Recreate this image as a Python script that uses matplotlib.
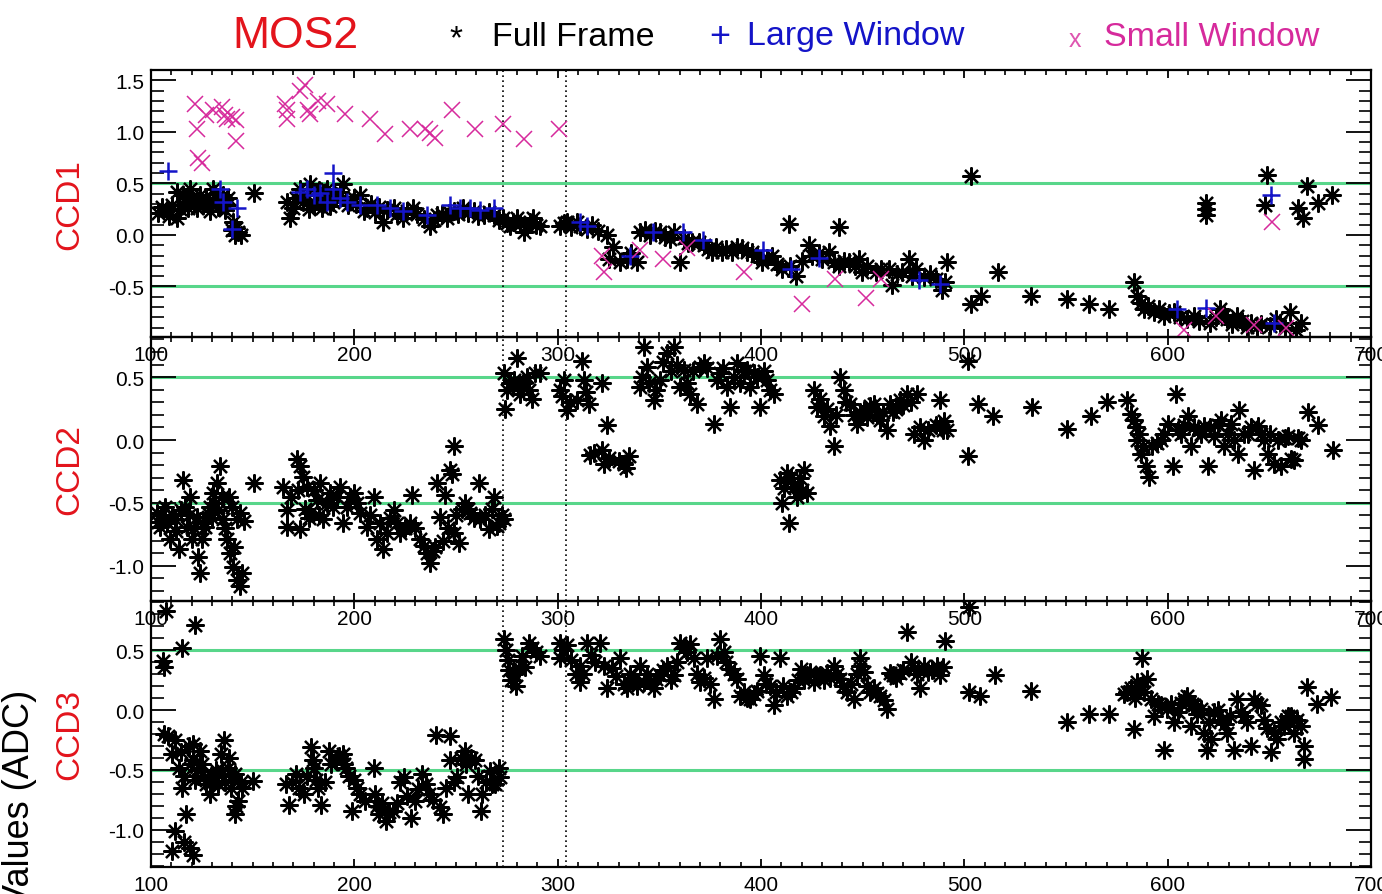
import numpy as np
import matplotlib.pyplot as plt
from matplotlib.ticker import FixedLocator, MultipleLocator

plt.rcParams['font.family'] = ['Liberation Sans', 'DejaVu Sans']
plt.rcParams['axes.unicode_minus'] = False

# ---------------------------------------------------------
# Offsets per frame (ADC), one list of (frame, value) per mode
# ---------------------------------------------------------

ccd1_full = [
    (103.6, 0.21), (105.5, 0.27), (107.7, 0.24), (109, 0.18), (110.2, 0.29), (112.6, 0.16), (112.6, 0.42),
    (114, 0.25), (115.9, 0.39), (116.7, 0.32), (118.4, 0.26), (119.2, 0.45), (120, 0.36), (121, 0.30),
    (122.5, 0.26), (123.5, 0.33), (124.1, 0.39), (125.7, 0.29), (127, 0.35), (128.2, 0.32), (129, 0.23),
    (130.7, 0.45), (131.5, 0.40), (132.3, 0.36), (133, 0.27), (134, 0.29), (135, 0.33), (135.6, 0.39),
    (136.5, 0.24), (137.2, 0.29), (138, 0.36), (139.7, 0.05), (140.5, 0.13), (141.3, 0.0), (142, 0.07),
    (143, 0.03), (144, 0.0), (150.4, 0.41),
    (166.8, 0.32), (168.4, 0.16), (170, 0.26), (171.5, 0.36), (173.3, 0.45), (174.9, 0.32), (176.6, 0.39),
    (177.5, 0.25), (178.2, 0.49), (179.9, 0.29), (181.5, 0.39), (182.5, 0.44), (184, 0.26), (185, 0.35),
    (186.4, 0.45), (188, 0.28), (189.7, 0.32), (191, 0.38), (193, 0.42), (194.6, 0.49), (196, 0.34),
    (197, 0.29), (199.6, 0.36), (201, 0.30), (202.9, 0.39), (204.5, 0.23), (206.1, 0.26),
    (208, 0.30), (210, 0.22), (212, 0.27), (214.3, 0.13), (216, 0.24), (219.3, 0.26), (221, 0.20),
    (224, 0.16), (226, 0.23), (229, 0.26), (231, 0.20), (234, 0.15), (237.2, 0.09), (239, 0.14),
    (240.5, 0.19), (243, 0.20), (245.4, 0.16), (247, 0.21), (248.8, 0.23), (251, 0.20), (253.6, 0.26),
    (256, 0.21), (258.6, 0.23), (261, 0.18), (263.5, 0.19), (266, 0.22), (268.5, 0.19), (271, 0.14),
    (273.3, 0.16), (275, 0.12), (276.6, 0.09), (278, 0.13), (279.9, 0.16), (281.5, 0.11), (283.2, 0.03),
    (284.8, 0.09), (286.5, 0.13), (288, 0.16), (289.5, 0.10),
    (291.4, 0.09), (301.3, 0.09), (303, 0.12), (304.6, 0.13), (306.5, 0.08), (309.5, 0.13), (311, 0.09),
    (314.4, 0.06), (317, 0.10), (320, 0.04), (324.2, 0.0), (325, -0.23), (327, -0.12), (330.8, -0.26),
    (334, -0.23), (336, -0.18), (339, -0.26),
    (340.6, 0.03), (343, 0.05), (345.5, 0.0), (348, 0.04), (350.5, 0.03), (353, -0.02), (355.4, -0.04),
    (357, 0.03), (360.3, -0.26), (362, -0.03), (364, -0.08), (366, -0.07), (369.5, -0.07), (372, -0.10),
    (374, -0.14), (376, -0.17), (378, -0.12), (380.9, -0.17), (383, -0.14), (385.9, -0.17), (388, -0.12),
    (390.8, -0.13), (393, -0.17), (395.7, -0.17), (398, -0.20), (400.6, -0.26), (403, -0.22), (405.5, -0.20),
    (408, -0.28), (410.4, -0.33), (413.7, 0.11), (414, -0.30), (417, -0.40), (420, -0.25),
    (423.5, -0.10), (425, -0.20), (428.5, -0.18), (430, -0.23), (433.4, -0.17), (436, -0.26), (438.3, 0.08),
    (438.3, -0.30), (441, -0.25), (443.2, -0.26), (446, -0.30), (448.1, -0.23), (449.7, -0.36), (452, -0.30),
    (456.3, -0.36), (459, -0.33), (462.8, -0.33), (464.5, -0.49), (467, -0.38), (469.4, -0.36), (472.7, -0.23),
    (474, -0.40), (476, -0.33), (480, -0.41), (483, -0.38), (485.8, -0.43), (489, -0.53), (490.7, -0.46),
    (491.5, -0.26), (503.4, 0.57), (503.4, -0.67), (508.3, -0.59), (516.5, -0.36),
    (532.6, -0.59), (550.7, -0.62), (561.3, -0.67), (571.1, -0.72), (583.4, -0.46), (585.1, -0.59),
    (586.7, -0.66), (588.3, -0.72), (590.5, -0.69), (593.2, -0.75), (595.5, -0.72), (598.1, -0.79),
    (600.5, -0.76), (603, -0.75), (606, -0.80), (609.6, -0.82), (612.9, -0.79), (615.5, -0.84),
    (618.6, 0.31), (618.6, 0.19), (618.6, 0.25), (620.9, -0.85), (623.5, -0.80), (625.9, -0.72),
    (627.5, -0.78), (629.1, -0.82), (631.5, -0.86), (634, -0.79), (636.5, -0.84), (638.9, -0.89),
    (641, -0.85), (643.8, -0.89), (646, -0.86), (648.8, 0.58), (648, 0.29), (650.5, -0.88), (653, -0.82),
    (655.2, -0.85), (657.5, -0.90), (660.1, -0.75), (663.1, -0.92), (664.2, 0.26), (665.5, -0.85),
    (666.7, 0.16), (668.3, 0.47), (674, 0.31), (680.6, 0.39),
]

ccd1_large = [
    (108.5, 0.62), (134, 0.45), (135.6, 0.32), (139.7, 0.06), (142.2, 0.26), (173.3, 0.42), (176.6, 0.45),
    (179.9, 0.39), (183.2, 0.41), (186.4, 0.32), (189.7, 0.45), (189.7, 0.60), (193, 0.36), (196.3, 0.32),
    (202.9, 0.29), (211, 0.29), (217.6, 0.26), (224, 0.23), (235.6, 0.19), (247, 0.29), (252, 0.26),
    (257, 0.26), (262, 0.24), (268.5, 0.26), (311, 0.13), (314.4, 0.09), (335.6, -0.20), (347, 0.03),
    (361.7, 0.03), (371.5, -0.05), (401, -0.15), (414.8, -0.33), (428.6, -0.22), (477.8, -0.44),
    (488, -0.48), (604.7, -0.72), (618.7, -0.71), (650.6, 0.39), (652.3, -0.85),
]

ccd1_small = [
    (121.6, 1.27), (122.5, 1.03), (123, 0.75), (125, 0.70), (127, 1.16), (130.7, 1.21), (134.8, 1.24),
    (136.4, 1.16), (137.2, 1.12), (139.7, 1.14), (142, 1.11), (142, 0.91), (166, 1.27), (166.7, 1.21),
    (166.7, 1.12), (173.3, 1.40), (175.7, 1.45), (177.4, 1.21), (178.2, 1.17), (182.3, 1.30), (186.4, 1.27),
    (195.4, 1.17), (207.7, 1.12), (215, 0.98), (227.4, 1.03), (234.8, 1.03), (237, 0.99), (239.7, 0.94),
    (248, 1.21), (259.4, 1.03), (273.3, 1.08), (283.2, 0.93), (300.5, 1.03), (321.8, -0.20), (322.6, -0.36),
    (340.6, -0.15), (352, -0.23), (363.6, -0.13), (391.5, -0.36), (420.2, -0.67), (436.6, -0.43),
    (451.4, -0.61), (458.8, -0.43), (608, -0.92), (623.6, -0.79), (642.5, -0.87), (651.5, 0.13), (658, -0.90),
]

ccd2_full = [
    (102.8, -0.58), (103.5, -0.65), (104.4, -0.69), (105.5, -0.60), (106.9, -0.53), (108, -0.66), (109.4, -0.79),
    (110.5, -0.60), (111.8, -0.63), (112.5, -0.72), (113.5, -0.87), (114.5, -0.56), (115.9, -0.32), (116.7, -0.53),
    (117.6, -0.69), (118.5, -0.60), (119.2, -0.45), (120, -0.79), (121, -0.70), (122.5, -0.61), (123.3, -0.93),
    (124.1, -1.06), (124.9, -0.79), (125.5, -0.66), (126.6, -0.69), (128, -0.58), (129, -0.53), (130, -0.62),
    (130.7, -0.42), (131.5, -0.50), (132.3, -0.34), (133, -0.56), (134, -0.21), (134.8, -0.45), (135.6, -0.63),
    (136.5, -0.70), (137.2, -0.79), (138.2, -0.45), (138.9, -0.90), (139.9, -0.53), (140.5, -1.01), (141, -0.85),
    (142.2, -1.11), (142.2, -0.63), (143.8, -1.16), (143.8, -0.58), (144.6, -1.06), (145.5, -0.64), (150.4, -0.34),
    (165.1, -0.37), (166.8, -0.56), (166.8, -0.69), (169, -0.45), (171.7, -0.15), (172.5, -0.40), (173.3, -0.21),
    (173.3, -0.71), (174.9, -0.29), (175.5, -0.55), (176.6, -0.37), (177.5, -0.62), (178.2, -0.58), (180, -0.40),
    (181.5, -0.48), (182.5, -0.60), (183.2, -0.34), (184.8, -0.63), (186.5, -0.50), (188.1, -0.42), (189.7, -0.53),
    (191.5, -0.45), (193, -0.37), (194.6, -0.66), (196.3, -0.53), (198, -0.45), (199.6, -0.42), (201.5, -0.50),
    (202.9, -0.58),
    (206.1, -0.69), (207.5, -0.60), (209.4, -0.45), (211, -0.79), (212.5, -0.66), (214.3, -0.87), (215.9, -0.74),
    (217.5, -0.62), (219.3, -0.56), (221, -0.66), (222.5, -0.74), (225, -0.70), (227.5, -0.66), (228.4, -0.44),
    (230, -0.70), (232.4, -0.79), (234, -0.84), (235.7, -0.90), (237.3, -0.98), (238.5, -0.88), (239.8, -0.85),
    (240.6, -0.34), (242.3, -0.61), (243.5, -0.80), (244.8, -0.44), (246, -0.70), (247.2, -0.24), (248.9, -0.05),
    (248, -0.27), (248.9, -0.74), (250, -0.60), (251.3, -0.82), (253, -0.55), (254.6, -0.50), (256, -0.55),
    (257, -0.58), (259, -0.62), (261.2, -0.34), (262, -0.63), (264, -0.60), (266.1, -0.71), (267.5, -0.55),
    (268.6, -0.45), (270, -0.68), (271, -0.66), (272.5, -0.60), (273.5, -0.63),
    (273.5, 0.53), (274.3, 0.25), (275.1, 0.40), (276.5, 0.45), (278.3, 0.48), (279.9, 0.65), (280.5, 0.42),
    (281.6, 0.37), (283, 0.45), (284.9, 0.50), (286, 0.40), (287.3, 0.33), (288.9, 0.53), (291.4, 0.53),
    (301.3, 0.40), (302, 0.35), (303, 0.48), (304.6, 0.24), (306, 0.30), (309.5, 0.32), (312, 0.63),
    (312.8, 0.48), (314, 0.38), (315.2, 0.29), (321.8, 0.45), (324.2, 0.12),
    (316, -0.12), (318, -0.10), (321.8, -0.08), (322.6, -0.19), (325, -0.14), (330, -0.17), (332.4, -0.19),
    (334.9, -0.13), (333.5, -0.22),
    (340.6, 0.42), (341.5, 0.50), (342.3, 0.74), (343.9, 0.58), (345, 0.45), (347.2, 0.32), (348.5, 0.40),
    (350.5, 0.48), (352, 0.62), (353.8, 0.69), (355.5, 0.55), (357, 0.74), (358.5, 0.60), (360.3, 0.42),
    (362, 0.56), (363.5, 0.45), (365.2, 0.37), (366.5, 0.55), (368.5, 0.29), (370, 0.58), (371.8, 0.61),
    (373.5, 0.57), (376.7, 0.13), (378.5, 0.48), (380, 0.53), (381.5, 0.57), (383.3, 0.42), (384.9, 0.26),
    (386.5, 0.50), (388.2, 0.61), (389.8, 0.45), (391.5, 0.55), (393.1, 0.56), (394.5, 0.42), (396.4, 0.53),
    (398, 0.50), (399.7, 0.26), (401.5, 0.55), (403, 0.48), (404.5, 0.40), (406.2, 0.37),
    (409.5, -0.32), (410.3, -0.50), (411.5, -0.38), (412.8, -0.26), (413.6, -0.66), (414.5, -0.30),
    (416.1, -0.37), (417.7, -0.45), (419, -0.30), (421, -0.24), (422.6, -0.42), (420, -0.40),
    (425.9, 0.40), (427.5, 0.26), (429, 0.33), (430.8, 0.19), (432.5, 0.25), (434.1, 0.11), (435.7, -0.05),
    (437, 0.20), (438.9, 0.50), (440.6, 0.40), (442, 0.30), (443.9, 0.29), (445.5, 0.20), (447.1, 0.13),
    (448.5, 0.22), (450.4, 0.24), (452, 0.18), (453.5, 0.27), (455.3, 0.29), (457, 0.20), (458.6, 0.16),
    (460, 0.22), (461.9, 0.08), (463.5, 0.29), (465, 0.22), (466.5, 0.25), (468.4, 0.32), (470, 0.28),
    (471.7, 0.37), (473.5, 0.30), (475, 0.05), (476.6, 0.37), (478, 0.10), (479.9, 0.0), (482, 0.08),
    (486, 0.12), (488.1, 0.32), (488.1, 0.11), (489.5, 0.08), (491.4, 0.08), (490, 0.15), (502, 0.63),
    (502, -0.13), (506.9, 0.29), (514.3, 0.19),
    (533.4, 0.26), (550.6, 0.09), (562.1, 0.19), (570.3, 0.30), (580.1, 0.32), (581.8, 0.21), (583.4, 0.16),
    (584.5, 0.10), (585.1, 0.0), (586, 0.05), (586.7, -0.11), (588, -0.05), (589.2, -0.21), (590.8, -0.29),
    (592.5, -0.05), (594.5, -0.02), (596.6, 0.0), (598, 0.05), (599.9, 0.13), (602.4, -0.21), (604, 0.37),
    (605, 0.08), (606.5, 0.05), (608, 0.12), (609.8, 0.19), (611.4, -0.05), (613, 0.10), (614.7, 0.08),
    (616.5, 0.05), (618, 0.11), (619.6, -0.21), (621, 0.10), (622.9, 0.03), (624.5, 0.12), (626.2, 0.16),
    (627.8, -0.05), (629.5, 0.05), (631.1, 0.13), (632.8, 0.0), (634.4, -0.11), (635.2, 0.24), (637.5, 0.05),
    (639.3, 0.05), (641, 0.10), (642.6, -0.24), (644.2, 0.11), (646, 0.05), (647.5, 0.0), (649.1, -0.11),
    (650.5, 0.05), (652.4, -0.19), (654, 0.0), (655.7, -0.21), (657.5, 0.02), (659, 0.03), (660.5, -0.15),
    (662.2, -0.16), (664, 0.02), (665.5, 0.0), (668.8, 0.22), (673.8, 0.12), (681.1, -0.08),
]

ccd3_full = [
    (107.4, 0.83), (105.7, 0.41), (106.6, 0.36), (115.3, 0.52), (121.5, 0.71),
    (106.6, -0.20), (108.5, -0.22), (110.1, -0.37), (111.8, -0.25), (113.6, -0.48), (114.5, -0.35), (115.3, -0.65),
    (116, -0.55), (117.1, -0.87), (118.5, -0.30), (119.5, -0.45), (120.6, -0.28), (120.6, -0.42), (121.5, -0.58),
    (122.5, -0.50), (124.1, -0.34), (125, -0.45), (125.9, -0.56), (127, -0.62), (128.9, -0.70), (129.5, -0.55),
    (130.7, -0.59), (132, -0.50), (133, -0.62), (134.2, -0.37), (135, -0.50), (136, -0.25), (136.5, -0.60),
    (137.7, -0.48), (138.5, -0.40), (139.5, -0.65), (140.5, -0.55), (141.3, -0.87), (141.3, -0.53), (142, -0.80),
    (143, -0.76), (144, -0.60), (144.8, -0.65), (150, -0.59),
    (111.8, -1.01), (110.1, -1.18), (119, -1.15), (120.6, -1.21), (116, -1.10),
    (166.3, -0.62), (168, -0.79), (169.5, -0.60), (171.5, -0.53), (173, -0.65), (175, -0.70), (176.5, -0.55),
    (178.5, -0.31), (179.5, -0.42), (180.3, -0.48), (181, -0.58), (182, -0.65), (183.8, -0.79), (185.5, -0.60),
    (187.3, -0.34), (188.5, -0.45), (190.8, -0.42), (192.5, -0.38), (194.3, -0.37), (195, -0.45), (196.1, -0.48),
    (197.5, -0.55), (198.7, -0.84), (200, -0.58), (201.5, -0.65), (203, -0.70), (205, -0.76),
    (209.4, -0.48), (210.3, -0.70), (211, -0.80), (212.1, -0.87), (213.5, -0.78), (215.6, -0.93), (217, -0.85),
    (219.1, -0.84), (221, -0.78), (222.5, -0.60), (224.4, -0.56), (226, -0.72), (227.9, -0.90), (229.6, -0.76),
    (231.5, -0.66), (233.1, -0.53), (235, -0.62), (236.6, -0.70), (238.5, -0.75), (240.2, -0.21), (241.9, -0.81),
    (243.7, -0.87), (245, -0.65), (247.2, -0.22), (247.2, -0.42), (249, -0.60), (250.7, -0.56), (252.5, -0.40),
    (254.2, -0.34), (255, -0.45), (256, -0.70), (257.5, -0.40), (259.5, -0.42), (261, -0.55), (262.1, -0.84),
    (263, -0.70), (264.5, -0.60), (266.5, -0.51), (267.5, -0.62), (269.1, -0.62), (270.9, -0.48), (271.5, -0.56),
    (273.5, 0.59), (274.5, 0.50), (275.3, 0.42), (276, 0.33), (277.1, 0.25), (278.5, 0.30), (279.7, 0.20),
    (281, 0.35), (282.5, 0.45), (284.1, 0.36), (285.8, 0.56), (287.5, 0.52), (289.3, 0.48), (291.4, 0.45),
    (301.3, 0.56), (301.3, 0.43), (302.5, 0.50), (304.6, 0.54), (306.5, 0.42), (309, 0.30), (311, 0.37),
    (311, 0.23), (312.5, 0.30), (314.4, 0.56), (316.5, 0.46), (318.5, 0.40), (321, 0.56), (322.6, 0.37),
    (324.2, 0.18),
    (326.5, 0.35), (328.5, 0.28), (330.8, 0.43), (332.5, 0.22), (334, 0.18), (335.5, 0.30), (337.3, 0.26),
    (339, 0.20), (340.6, 0.37), (342.3, 0.23), (344, 0.30), (345.5, 0.24), (347.2, 0.18), (348.5, 0.26),
    (350.5, 0.29), (352, 0.33), (353.8, 0.37), (355.5, 0.25), (357, 0.29), (358.5, 0.40), (360.3, 0.56),
    (362, 0.52), (363.6, 0.48), (365, 0.55), (366.9, 0.43), (368.5, 0.30), (370.2, 0.23), (371.8, 0.27),
    (373.5, 0.43), (375, 0.22), (376.7, 0.09), (378.5, 0.45), (380, 0.59), (381.6, 0.48), (383, 0.40),
    (384.9, 0.34), (386.5, 0.30), (388.2, 0.26), (389.8, 0.12), (391.5, 0.15), (393, 0.10), (394.8, 0.09),
    (396.5, 0.13), (398, 0.16), (399.7, 0.45), (401.3, 0.29), (402.5, 0.22), (404.6, 0.20), (406.2, 0.04),
    (407.5, 0.15), (409.5, 0.43), (411, 0.20), (412.8, 0.12), (414.5, 0.15), (416.1, 0.18), (418, 0.25),
    (419.4, 0.34),
    (421, 0.25), (422.6, 0.29), (424, 0.32), (425.9, 0.23), (427.5, 0.28), (429.2, 0.29), (430.8, 0.25),
    (432.5, 0.31), (434, 0.27), (435.7, 0.37), (437.5, 0.30), (439, 0.26), (440.5, 0.20), (442.3, 0.15),
    (444, 0.22), (445.6, 0.09), (447, 0.30), (448.8, 0.43), (448.8, 0.37), (450.5, 0.32), (452, 0.20),
    (453.8, 0.15), (455.5, 0.18), (457, 0.14), (458.7, 0.12), (460.5, 0.08), (462, 0.01), (463.6, 0.31),
    (465, 0.29), (466.5, 0.27), (468.5, 0.31), (470, 0.33), (471.8, 0.65), (473.5, 0.40), (475, 0.35),
    (476.5, 0.30), (478.4, 0.18), (480, 0.37), (482, 0.32), (484, 0.33), (486.6, 0.37), (488.2, 0.29),
    (489.5, 0.36), (490.7, 0.58), (502.1, 0.86), (502.1, 0.15), (507.8, 0.12), (515.2, 0.29),
    (532.6, 0.16), (550.7, -0.10), (561.3, -0.03), (571.1, -0.03), (578.5, 0.13), (580, 0.15), (581.8, 0.18),
    (583.4, -0.16), (584, 0.10), (585.1, 0.23), (586.5, 0.20), (587.5, 0.43), (588.5, 0.15), (590, 0.26),
    (591.6, 0.09), (593.3, -0.05), (595, 0.05), (596.6, 0.04), (598.2, -0.33), (599.8, 0.01), (601.5, 0.05),
    (603.1, -0.10), (604.8, -0.02), (606.5, 0.06), (608.1, 0.09), (609.7, 0.12), (611.3, -0.13), (612, 0.05),
    (613, 0.04), (614.5, -0.03), (616.2, 0.01), (617.9, -0.19), (619.5, -0.33), (620.5, -0.10), (621.1, -0.24),
    (622.8, -0.02), (624.5, 0.0), (626.1, -0.08), (628, -0.12), (629.3, -0.19), (630.8, -0.05), (632.6, -0.33),
    (634.3, 0.09), (636, -0.02), (637.5, -0.05), (639, -0.10), (640.8, -0.30), (642.5, 0.09), (644, 0.05),
    (645.7, 0.04), (647.4, -0.08), (649, -0.15), (650.6, -0.35), (652.3, -0.19), (653.9, -0.24), (655.5, -0.10),
    (657.2, -0.13), (659, -0.05), (660.5, -0.05), (662.1, -0.19), (663.5, -0.08), (665.4, -0.13), (667.1, -0.30),
    (667.1, -0.41), (668.7, 0.19), (673.6, 0.05), (680.2, 0.11),
]

ccd_names = ["CCD1", "CCD2", "CCD3"]
thresholds = [-0.5, 0.5]
gap_frames = [273, 304]
x_ticks = [100, 200, 300, 400, 500, 600, 700]
y_limits = [(-0.99, 1.6), (-1.28, 0.82), (-1.31, 0.91)]
y_ticks = [[-0.5, 0.0, 0.5, 1.0, 1.5], [-1.0, -0.5, 0.0, 0.5], [-1.0, -0.5, 0.0, 0.5]]

RED = '#e3141c'
BLUE = '#1414c8'
MAGENTA = '#d62a9c'
GREEN = '#58d68a'

# ---------------------------------------------------------
# Figure: three stacked panels sharing the frame axis
# ---------------------------------------------------------

fig = plt.figure(figsize=(13.82, 8.95), dpi=100)
boxes = [
    [0.1093, 0.6224, 0.8828, 0.2983],
    [0.1093, 0.3274, 0.8828, 0.2950],
    [0.1093, 0.0302, 0.8828, 0.2972],
]
panels = [
    [(ccd1_full, 'full'), (ccd1_large, 'large'), (ccd1_small, 'small')],
    [(ccd2_full, 'full')],
    [(ccd3_full, 'full')],
]
styles = {
    'full': dict(marker=(8, 2, 0), color='black', ms=13, mew=1.6),
    'large': dict(marker='+', color=BLUE, ms=13, mew=1.8),
    'small': dict(marker='x', color=MAGENTA, ms=11, mew=1.1),
}

for i, box in enumerate(boxes):
    ax = fig.add_axes(box)
    ax.set_facecolor('none')
    ax.set_xlim(100, 700)
    ax.set_ylim(*y_limits[i])

    for y0 in thresholds:
        ax.axhline(y0, color=GREEN, lw=2.2, zorder=1)
    for x0 in gap_frames:
        ax.axvline(x0, color='black', lw=1.2, ls=(0, (1, 2)), zorder=1)

    for pts, kind in panels[i]:
        arr = np.array(pts)
        ax.plot(arr[:, 0], arr[:, 1], ls='none', zorder=3, **styles[kind])

    ax.xaxis.set_major_locator(FixedLocator(x_ticks))
    ax.xaxis.set_minor_locator(MultipleLocator(10))
    ax.yaxis.set_major_locator(FixedLocator(y_ticks[i]))
    ax.yaxis.set_minor_locator(MultipleLocator(0.1))
    ax.yaxis.set_major_formatter(lambda v, p: f"{v:.1f}")
    ax.tick_params(axis='x', which='major', direction='in', length=6, width=1.3,
                   top=True, bottom=True, labelsize=15, pad=6)
    ax.tick_params(axis='x', which='minor', direction='in', length=3.5, width=1.2, top=True, bottom=True)
    ax.tick_params(axis='y', which='major', direction='in', length=18, width=1.3,
                   left=True, right=True, labelsize=15, pad=5)
    ax.tick_params(axis='y', which='minor', direction='in', length=9, width=1.2, left=True, right=True)
    for s in ax.spines.values():
        s.set_linewidth(1.6)

    ax.set_ylabel(ccd_names[i], color=RED, fontsize=24)
    ax.yaxis.set_label_coords(-0.054, 0.5)

fig.text(0.014, 0.229, "Values (ADC)", rotation=90, ha='center', va='top', fontsize=26)

# header with the instrument name and the mode key
fig.text(295 / 1382, 1 - 37 / 895, "MOS2", color=RED, fontsize=32, ha='center', va='center')
fig.text(456 / 1382, 1 - 40 / 895, "*", color='black', fontsize=24, ha='center', va='center')
fig.text(492 / 1382, 1 - 37 / 895, "Full Frame", color='black', fontsize=24.5, ha='left', va='center')
fig.text(720 / 1382, 1 - 37 / 895, "+", color=BLUE, fontsize=26, ha='center', va='center')
fig.text(747 / 1382, 1 - 37 / 895, "Large Window", color=BLUE, fontsize=24.5, ha='left', va='center')
fig.text(1075 / 1382, 1 - 40 / 895, "x", color=MAGENTA, fontsize=18, ha='center', va='center', alpha=0.8)
fig.text(1104 / 1382, 1 - 37 / 895, "Small Window", color=MAGENTA, fontsize=24.5, ha='left', va='center')

fig.savefig("out.png", dpi=100)
